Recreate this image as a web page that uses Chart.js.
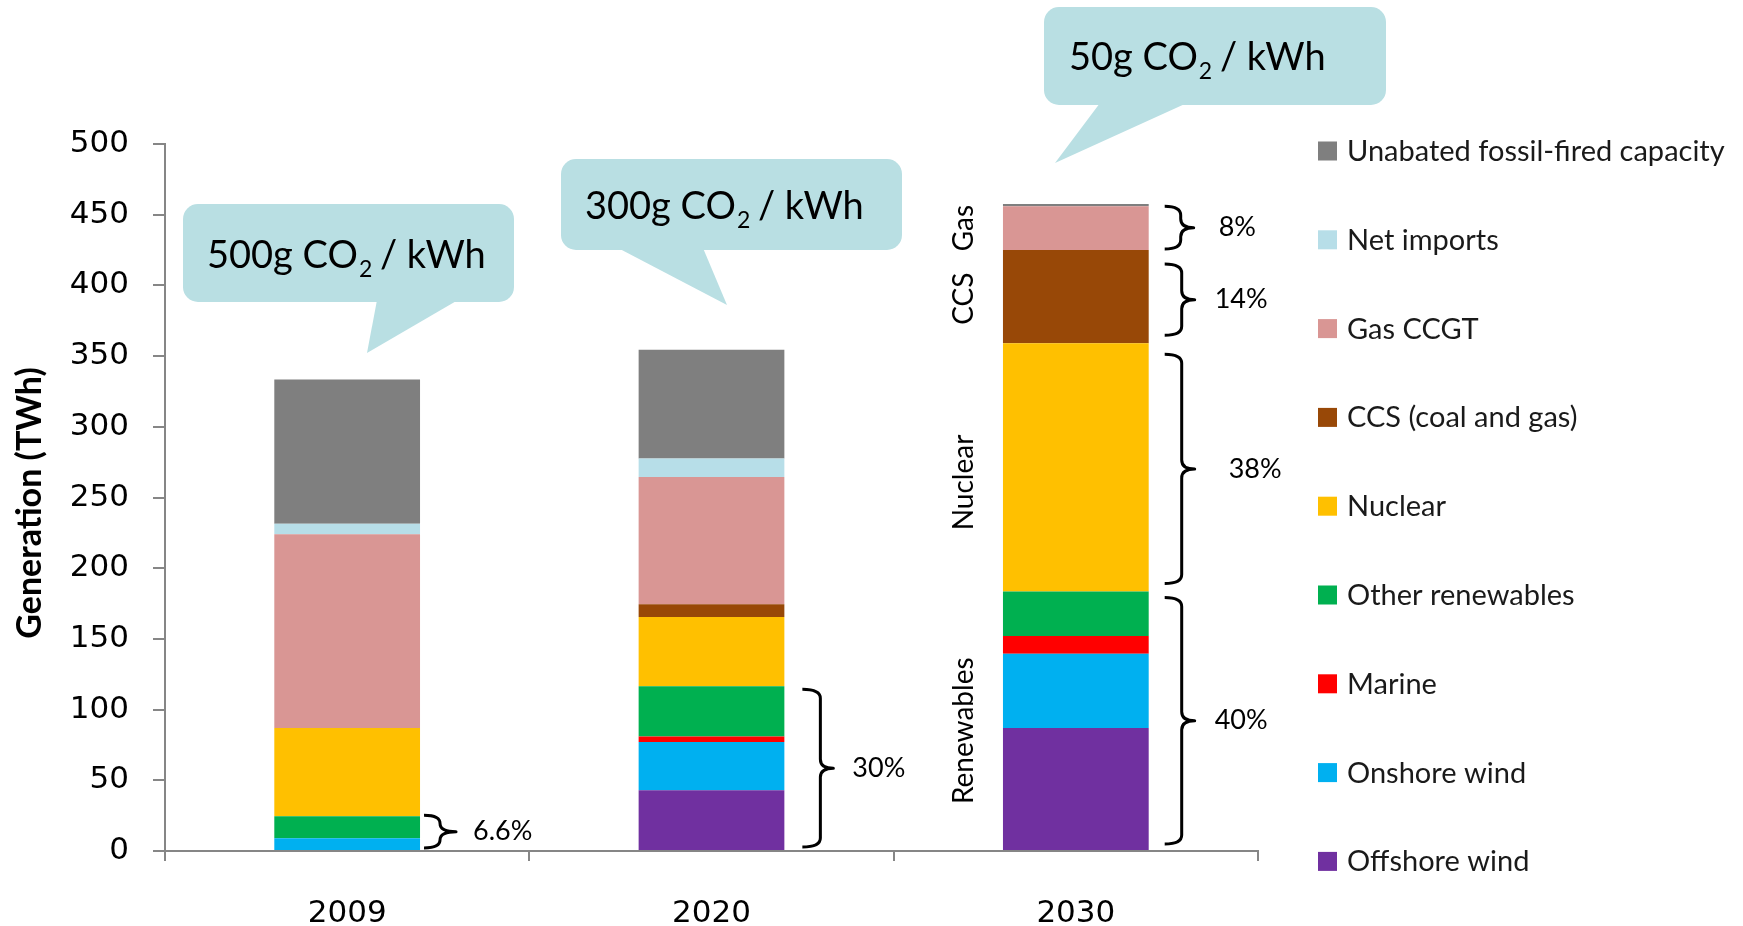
<!DOCTYPE html>
<html>
<head>
<meta charset="utf-8">
<title>Generation mix 2009 - 2030</title>
<script src="https://cdn.jsdelivr.net/npm/chart.js@4.4.1/dist/chart.umd.min.js"></script>
<style>
    html, body { margin: 0; padding: 0; background: #fff; }
    #chartCanvas { display: block; }
</style>
</head>
<body>
<canvas id="chartCanvas" width="1743" height="926"></canvas>
<script>
const years = ['2009', '2020', '2030'];

// TWh per year, listed from the bottom of each stack upwards
const offshoreWind = [0, 43, 87];
const onshoreWind = [9, 34, 52.5];
const marine = [0, 4, 12.5];
const otherRenewables = [15.5, 35.5, 31.5];
const nuclear = [62.5, 49, 175.5];
const ccs = [0, 9, 66];
const gasCCGT = [137, 90, 31];
const netImports = [7.5, 13, 0];
const unabatedFossil = [102, 77, 1.5];

const seriesNames = ['Offshore wind', 'Onshore wind', 'Marine', 'Other renewables', 'Nuclear',
    'CCS (coal and gas)', 'Gas CCGT', 'Net imports', 'Unabated fossil-fired capacity'];
const seriesData = [offshoreWind, onshoreWind, marine, otherRenewables, nuclear,
    ccs, gasCCGT, netImports, unabatedFossil];
const seriesColors = ['#7030a0', '#00b0f0', '#ff0000', '#00b050', '#ffc000',
    '#984807', '#d99694', '#b7dee8', '#7f7f7f'];

const yMin = 0;
const yMax = 500;
const yStep = 50;

// carbon intensity shown in the speech bubbles (g CO2 / kWh)
const co2PerKWh = [500, 300, 50];

// share brackets: year index, first and last series of the group, label
const shareYear = [0, 1, 2, 2, 2, 2];
const shareFrom = [0, 0, 6, 5, 4, 0];
const shareTo = [3, 3, 6, 5, 4, 3];
const shareText = ['6.6%', '30%', '8%', '14%', '38%', '40%'];

// rotated group names next to the 2030 bar
const groupNames = ['Gas', 'CCS', 'Nuclear', 'Renewables'];
const groupFrom = [6, 5, 4, 0];
const groupTo = [6, 5, 4, 3];

// layout of the hand-drawn extras (pixels)
const braceStyle = [
    { x0: 4, stem: 20, tip: 36, text: 53, inTop: -1, inBot: 3 },
    { x0: 18, stem: 36, tip: 49, text: 68, inTop: 3, inBot: 3 },
    { x0: 16, stem: 32, tip: 45, text: 70, inTop: 0, inBot: 1 },
    { x0: 16, stem: 33, tip: 46, text: 66, inTop: 14, inBot: 8 },
    { x0: 16, stem: 33, tip: 46, text: 80, inTop: 11, inBot: 8 },
    { x0: 16, stem: 33, tip: 46, text: 66, inTop: 6, inBot: 6 }
];
const groupShift = [0, 2, 15, 10];

const bubbles = [
    { x: 183, y: 204, w: 331, h: 98, tail: [[377, 300], [458, 300], [367, 353]], tx: 207, ty: 268 },
    { x: 561, y: 159, w: 341, h: 91, tail: [[618, 248], [703, 248], [727, 305]], tx: 585, ty: 219 },
    { x: 1044, y: 7, w: 342, h: 98, tail: [[1100, 103], [1187, 103], [1055, 163]], tx: 1069, ty: 70 }
];

const axisGrey = '#868686';
const textFont = '"Lato", "Open Sans", sans-serif';

function roundedRect(ctx, x, y, w, h, r) {
    ctx.beginPath();
    ctx.moveTo(x + r, y);
    ctx.arcTo(x + w, y, x + w, y + h, r);
    ctx.arcTo(x + w, y + h, x, y + h, r);
    ctx.arcTo(x, y + h, x, y, r);
    ctx.arcTo(x, y, x + w, y, r);
    ctx.closePath();
    ctx.fill();
}

function drawBubbles(ctx) {
    bubbles.forEach((b, i) => {
        ctx.fillStyle = '#b9dfe3';
        roundedRect(ctx, b.x, b.y, b.w, b.h, 15);
        ctx.beginPath();
        ctx.moveTo(b.tail[0][0], b.tail[0][1]);
        ctx.lineTo(b.tail[1][0], b.tail[1][1]);
        ctx.lineTo(b.tail[2][0], b.tail[2][1]);
        ctx.closePath();
        ctx.fill();

        ctx.fillStyle = '#000';
        ctx.textAlign = 'left';
        ctx.textBaseline = 'alphabetic';
        ctx.font = '38px ' + textFont;
        const head = co2PerKWh[i] + 'g CO';
        ctx.fillText(head, b.tx, b.ty);
        let cx = b.tx + ctx.measureText(head).width + 1;
        ctx.font = '23px ' + textFont;
        ctx.fillText('2', cx, b.ty + 9);
        cx += ctx.measureText('2').width;
        ctx.font = '38px ' + textFont;
        ctx.fillText(' / kWh', cx - 2, b.ty);
    });
}

function stackEdges(chart, yearIdx, from, to) {
    const top = chart.getDatasetMeta(to).data[yearIdx];
    const bottom = chart.getDatasetMeta(from).data[yearIdx];
    return { top: top.y, bottom: bottom.base, right: top.x + top.width / 2, left: top.x - top.width / 2 };
}

function drawBraces(chart) {
    const ctx = chart.ctx;
    shareText.forEach((label, i) => {
        const s = braceStyle[i];
        const e = stackEdges(chart, shareYear[i], shareFrom[i], shareTo[i]);
        const top = e.top + s.inTop;
        const bot = e.bottom - s.inBot;
        const mid = (top + bot) / 2;
        const x0 = e.right + s.x0;
        const x1 = e.right + s.stem;
        const x2 = e.right + s.tip;
        const r = Math.min(9, (bot - top) / 4);

        ctx.save();
        ctx.strokeStyle = '#000';
        ctx.lineWidth = 3;
        ctx.lineJoin = 'round';
        ctx.beginPath();
        ctx.moveTo(x0, top);
        ctx.quadraticCurveTo(x1, top, x1, top + r);
        ctx.lineTo(x1, mid - r);
        ctx.quadraticCurveTo(x1, mid, x2, mid);
        ctx.quadraticCurveTo(x1, mid, x1, mid + r);
        ctx.lineTo(x1, bot - r);
        ctx.quadraticCurveTo(x1, bot, x0, bot);
        ctx.stroke();
        ctx.restore();

        ctx.fillStyle = '#000';
        ctx.font = '27px ' + textFont;
        ctx.textAlign = 'left';
        ctx.textBaseline = 'middle';
        ctx.fillText(label, e.right + s.text, mid);
    });
}

function drawGroupNames(chart) {
    const ctx = chart.ctx;
    groupNames.forEach((name, i) => {
        const e = stackEdges(chart, 2, groupFrom[i], groupTo[i]);
        const cy = (e.top + e.bottom) / 2 + groupShift[i];
        ctx.save();
        ctx.translate(e.left - 30, cy);
        ctx.rotate(-Math.PI / 2);
        ctx.fillStyle = '#000';
        ctx.font = '28px ' + textFont;
        ctx.textAlign = 'center';
        ctx.textBaseline = 'alphabetic';
        ctx.fillText(name, 0, 0);
        ctx.restore();
    });
}

function drawLegend(chart) {
    const ctx = chart.ctx;
    const items = chart.data.datasets.slice().reverse();
    items.forEach((ds, i) => {
        const cy = 151 + i * 88.8;
        ctx.fillStyle = ds.backgroundColor;
        ctx.fillRect(1318, cy - 9.5, 19, 19);
        ctx.fillStyle = '#1a1a1a';
        ctx.font = '29px ' + textFont;
        ctx.textAlign = 'left';
        ctx.textBaseline = 'alphabetic';
        ctx.fillText(ds.label, 1347, cy + 10);
    });
}

function drawYTitle(ctx) {
    ctx.save();
    ctx.translate(41, 503);
    ctx.rotate(-Math.PI / 2);
    ctx.fillStyle = '#000';
    ctx.font = 'bold 34px ' + textFont;
    ctx.textAlign = 'center';
    ctx.textBaseline = 'alphabetic';
    ctx.fillText('Generation (TWh)', 0, 0);
    ctx.restore();
}

const extrasPlugin = {
    id: 'extras',
    afterDraw(chart) {
        drawBubbles(chart.ctx);
        drawBraces(chart);
        drawGroupNames(chart);
        drawLegend(chart);
        drawYTitle(chart.ctx);
    }
};

function drawChart() {
    const ctx = document.getElementById('chartCanvas').getContext('2d');

    const datasets = seriesNames.map((name, i) => ({
        label: name,
        data: seriesData[i],
        backgroundColor: seriesColors[i],
        borderWidth: 0,
        barPercentage: 0.4,
        categoryPercentage: 1.0
    }));

    new Chart(ctx, {
        type: 'bar',
        data: { labels: years, datasets: datasets },
        plugins: [extrasPlugin],
        options: {
            responsive: false,
            animation: false,
            devicePixelRatio: 1,
            layout: { padding: { left: 0, right: 485, top: 144, bottom: 0 } },
            plugins: {
                legend: { display: false },
                tooltip: { enabled: false }
            },
            scales: {
                x: {
                    stacked: true,
                    ticks: {
                        color: '#000',
                        font: { family: 'DejaVu Sans', size: 31 },
                        padding: 34
                    },
                    grid: {
                        offset: true,
                        drawOnChartArea: false,
                        tickLength: 10,
                        color: axisGrey,
                        lineWidth: 2
                    },
                    border: { color: axisGrey, width: 2 },
                    afterFit: scale => { scale.height = 75; }
                },
                y: {
                    stacked: true,
                    min: yMin,
                    max: yMax,
                    ticks: {
                        stepSize: yStep,
                        color: '#000',
                        font: { family: 'DejaVu Sans', size: 31 },
                        padding: 24
                    },
                    grid: {
                        drawOnChartArea: false,
                        tickLength: 12,
                        color: axisGrey,
                        lineWidth: 2
                    },
                    border: { color: axisGrey, width: 2 },
                    afterFit: scale => { scale.width = 165; }
                }
            }
        }
    });
}

Promise.all([
    document.fonts.load('31px "DejaVu Sans"'),
    document.fonts.load('28px "Lato"'),
    document.fonts.load('bold 34px "Lato"')
]).then(drawChart, drawChart);
</script>
</body>
</html>
